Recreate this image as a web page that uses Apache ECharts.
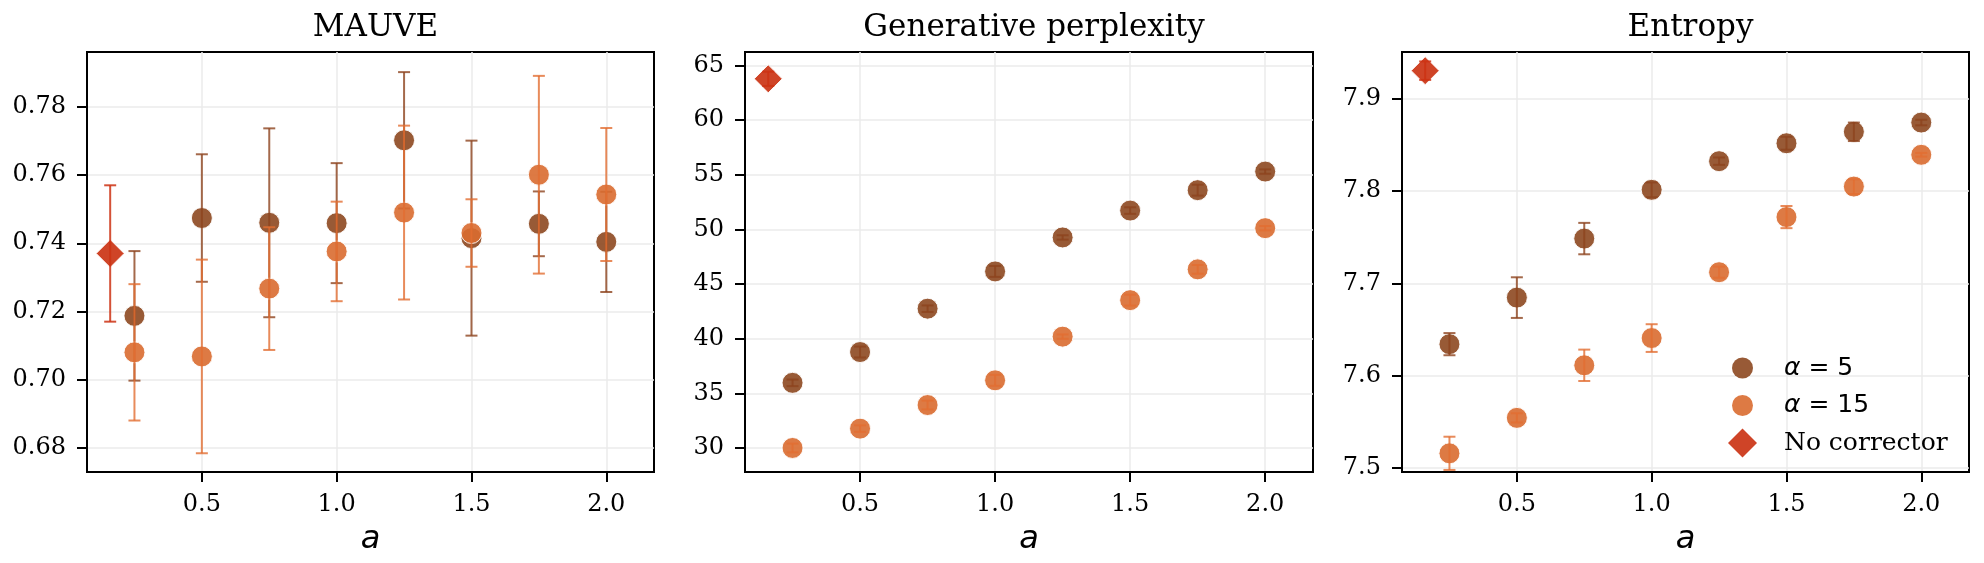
<!DOCTYPE html>
<html>
<head>
<meta charset="utf-8">
<script src="https://cdn.jsdelivr.net/npm/echarts@6/dist/echarts.min.js"></script>
<style>
html,body{margin:0;padding:0;background:#fff;}
#chart{width:1984px;height:563px;}
</style>
</head>
<body>
<div id="chart"></div>
<script>
// ---- data ----
const xs = [0.25, 0.5, 0.75, 1.0, 1.25, 1.5, 1.75, 2.0];
const noCorrX = 0.16;
const titles = ['MAUVE', 'Generative perplexity', 'Entropy'];
const xTicks = [0.5, 1.0, 1.5, 2.0];

const mauveA5 = [0.7187, 0.7474, 0.7460, 0.7459, 0.7702, 0.7415, 0.7457, 0.7404];
const mauveA5Err = [0.019, 0.0187, 0.0277, 0.0176, 0.020, 0.0286, 0.0095, 0.0147];
const mauveA15 = [0.7080, 0.7068, 0.7267, 0.7376, 0.7490, 0.7430, 0.7601, 0.7543];
const mauveA15Err = [0.020, 0.0284, 0.018, 0.0146, 0.0255, 0.0099, 0.029, 0.0195];
const mauveNoCorr = 0.7370, mauveNoCorrErr = 0.020;
const mauveTicks = [0.68, 0.70, 0.72, 0.74, 0.76, 0.78];

const pplA5 = [35.96, 38.78, 42.75, 46.16, 49.27, 51.73, 53.60, 55.30];
const pplA5Err = [0.3, 0.5, 0.3, 0.5, 0.2, 0.3, 0.5, 0.2];
const pplA15 = [30.0, 31.77, 33.93, 36.19, 40.19, 43.53, 46.35, 50.12];
const pplA15Err = [0.4, 0.3, 0.4, 0.5, 0.2, 0.5, 0.4, 0.2];
const pplNoCorr = 63.79, pplNoCorrErr = 0.65;
const pplTicks = [30, 35, 40, 45, 50, 55, 60, 65];

const entA5 = [7.6341, 7.6845, 7.7484, 7.8012, 7.8322, 7.8516, 7.8640, 7.8740];
const entA5Err = [0.012, 0.022, 0.017, 0.008, 0.004, 0.007, 0.010, 0.003];
const entA15 = [7.5159, 7.5543, 7.6112, 7.6407, 7.712, 7.7717, 7.8047, 7.8391];
const entA15Err = [0.018, 0.005, 0.017, 0.015, 0.006, 0.012, 0.008, 0.002];
const entNoCorr = 7.9302, entNoCorrErr = 0.010;
const entTicks = [7.5, 7.6, 7.7, 7.8, 7.9];

// ---- styling ----
const SERIF = 'DejaVu Serif';
const SANS = 'DejaVu Sans';
const brown = 'rgba(141,72,32,0.9)';
const orange = 'rgba(217,107,48,0.9)';
const red = 'rgba(202,48,16,0.9)';
const brownBar = 'rgba(141,68,30,0.8)';
const orangeBar = 'rgba(226,110,50,0.8)';
const redBar = 'rgba(205,50,20,0.85)';

const panels = [
  {a5: mauveA5, a5e: mauveA5Err, a15: mauveA15, a15e: mauveA15Err, nc: mauveNoCorr, nce: mauveNoCorrErr,
   ticks: mauveTicks, ymin: 0.6729, ymax: 0.7961, dec: 2, left: 87, width: 567},
  {a5: pplA5, a5e: pplA5Err, a15: pplA15, a15e: pplA15Err, nc: pplNoCorr, nce: pplNoCorrErr,
   ticks: pplTicks, ymin: 27.8, ymax: 66.245, dec: 0, left: 745, width: 568},
  {a5: entA5, a5e: entA5Err, a15: entA15, a15e: entA15Err, nc: entNoCorr, nce: entNoCorrErr,
   ticks: entTicks, ymin: 7.4957, ymax: 7.9504, dec: 1, left: 1402, width: 567}
];

function errRender(color) {
  return function (params, api) {
    const x = api.value(0), y = api.value(1), e = api.value(2);
    const t = api.coord([x, y + e]);
    const b = api.coord([x, y - e]);
    const hw = 6;
    const st = {stroke: color, lineWidth: 2};
    return {
      type: 'group',
      children: [
        {type: 'line', shape: {x1: t[0], y1: t[1], x2: b[0], y2: b[1]}, style: st},
        {type: 'line', shape: {x1: t[0] - hw, y1: t[1], x2: t[0] + hw, y2: t[1]}, style: st},
        {type: 'line', shape: {x1: b[0] - hw, y1: b[1], x2: b[0] + hw, y2: b[1]}, style: st}
      ]
    };
  };
}

const grids = [], xAxes = [], yAxes = [], series = [], titleArr = [];
panels.forEach((p, i) => {
  grids.push({left: p.left, width: p.width, top: 52, bottom: 91, show: true,
    borderColor: '#000', borderWidth: 2, backgroundColor: 'transparent'});
  titleArr.push({text: titles[i], left: p.left + p.width / 2, top: 7, textAlign: 'center',
    textStyle: {fontFamily: SERIF, fontSize: 31, fontWeight: 'normal', color: '#000'}});
  xAxes.push({type: 'value', gridIndex: i, min: 0.074, max: 2.177,
    name: 'a', nameLocation: 'middle', nameGap: 52,
    nameTextStyle: {fontFamily: SANS, fontStyle: 'italic', fontSize: 32, color: '#000'},
    axisLine: {show: true, onZero: false, lineStyle: {color: '#000', width: 2}},
    axisTick: {show: true, length: 10, customValues: xTicks, lineStyle: {color: '#000', width: 2}},
    axisLabel: {customValues: xTicks, margin: 21, fontFamily: SERIF, fontSize: 24, color: '#000',
      formatter: v => v.toFixed(1)},
    splitLine: {show: true, lineStyle: {color: '#ebebeb', width: 1.5}}
  });
  yAxes.push({type: 'value', gridIndex: i, min: p.ymin, max: p.ymax,
    axisLine: {show: true, onZero: false, lineStyle: {color: '#000', width: 2}},
    axisTick: {show: true, length: 10, customValues: p.ticks, lineStyle: {color: '#000', width: 2}},
    axisLabel: {customValues: p.ticks, margin: 21, fontFamily: SERIF, fontSize: 24, color: '#000',
      formatter: v => v.toFixed(p.dec)},
    splitLine: {show: true, lineStyle: {color: '#ebebeb', width: 1.5}}
  });
  const a5 = xs.map((x, k) => [x, p.a5[k], p.a5e[k]]);
  const a15 = xs.map((x, k) => [x, p.a15[k], p.a15e[k]]);
  const nc = [[noCorrX, p.nc, p.nce]];
  const sc = (name, data, color, sym, size, z) => ({
    name, type: 'scatter', xAxisIndex: i, yAxisIndex: i, data, symbol: sym, symbolSize: size,
    itemStyle: {color, borderColor: 'rgba(255,255,255,0.9)', borderWidth: 1, opacity: 1},
    emphasis: {disabled: true}, z, animation: false
  });
  const eb = (name, data, color, z) => ({
    name, type: 'custom', xAxisIndex: i, yAxisIndex: i, data, renderItem: errRender(color),
    encode: {x: 0, y: 1}, clip: true, z, silent: true, animation: false
  });
  series.push(sc('a5', a5, brown, 'circle', 21, 2));
  series.push(eb('a5', a5, brownBar, 3));
  series.push(sc('a15', a15, orange, 'circle', 21, 4));
  series.push(eb('a15', a15, orangeBar, 5));
  series.push(sc('nc', nc, red, 'diamond', 28, 6));
  series.push(eb('nc', nc, redBar, 7));
});

const chart = echarts.init(document.getElementById('chart'), null, {renderer: 'canvas'});
chart.setOption({
  backgroundColor: '#fff',
  animation: false,
  title: titleArr,
  grid: grids,
  xAxis: xAxes,
  yAxis: yAxes,
  legend: [
    {data: [{name: 'a5', icon: 'circle', itemStyle: {color: brown, borderWidth: 0}},
            {name: 'a15', icon: 'circle', itemStyle: {color: orange, borderWidth: 0}}],
     orient: 'vertical', left: 1727, top: 348, itemWidth: 21, itemHeight: 21, itemGap: 7.5,
     selectedMode: false,
     formatter: n => n === 'a5' ? '{p|}{g|α}{n| = 5}' : '{p|}{g|α}{n| = 15}',
     textStyle: {lineHeight: 30, rich: {
       p: {width: 26, height: 30},
       g: {fontFamily: SANS, fontStyle: 'italic', fontSize: 25, color: '#000', lineHeight: 30},
       n: {fontFamily: SANS, fontSize: 25, color: '#000', lineHeight: 30}
     }}},
    {data: [{name: 'nc', icon: 'diamond', itemStyle: {color: red, borderWidth: 0}}],
     orient: 'vertical', left: 1723, top: 423, itemWidth: 29, itemHeight: 29,
     selectedMode: false,
     formatter: () => '{p|}{t|No corrector}',
     textStyle: {lineHeight: 30, rich: {
       p: {width: 22, height: 30},
       t: {fontFamily: SERIF, fontSize: 25, color: '#000', lineHeight: 30}
     }}}
  ],
  series
});
</script>
</body>
</html>
